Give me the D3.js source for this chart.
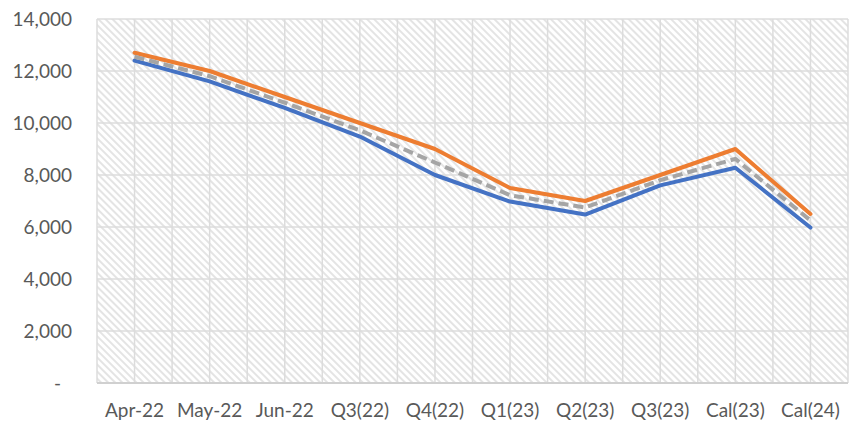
<!DOCTYPE html>
<html>
<head>
<meta charset="utf-8">
<script src="https://cdn.jsdelivr.net/npm/d3@7"></script>
<style>
  body { margin: 0; background: #fff; }
  text { font-family: Lato, "Open Sans", sans-serif; fill: #595959; }
</style>
</head>
<body>
<div id="chart"></div>
<script>
// chart data
const categories = ["Apr-22", "May-22", "Jun-22", "Q3(22)", "Q4(22)", "Q1(23)", "Q2(23)", "Q3(23)", "Cal(23)", "Cal(24)"];
const seriesHigh = [12700, 12000, 11000, 10000, 9000, 7500, 7000, 8000, 9000, 6500];
const seriesMid = [12550, 11800, 10780, 9720, 8480, 7220, 6750, 7800, 8620, 6250];
const seriesLow = [12400, 11600, 10580, 9480, 8000, 6980, 6480, 7600, 8280, 5980];
const yTicks = [0, 2000, 4000, 6000, 8000, 10000, 12000, 14000];

const width = 853, height = 426;
const margin = {top: 19, right: 5, bottom: 43, left: 97};

const svg = d3.select("#chart").append("svg")
    .attr("width", width)
    .attr("height", height);

const x = d3.scaleBand()
    .domain(categories)
    .range([margin.left, width - margin.right])
    .padding(0);

const y = d3.scaleLinear()
    .domain([0, 14000])
    .range([height - margin.bottom, margin.top]);

const cx = d => x(d) + x.bandwidth() / 2;

// hatched plot background
const defs = svg.append("defs");
const pat = defs.append("pattern")
    .attr("id", "hatch")
    .attr("patternUnits", "userSpaceOnUse")
    .attr("width", 5)
    .attr("height", 5)
    .attr("patternTransform", "rotate(-45)");
pat.append("rect").attr("width", 5).attr("height", 5).attr("fill", "#fff");
pat.append("rect").attr("width", 2).attr("height", 5).attr("fill", "#e4e4e4");

svg.append("rect")
    .attr("x", margin.left)
    .attr("y", margin.top)
    .attr("width", width - margin.right - margin.left)
    .attr("height", height - margin.bottom - margin.top)
    .attr("fill", "url(#hatch)");

// gridlines
const grid = svg.append("g").attr("stroke", "#dcdcdc").attr("stroke-width", 1.5);
grid.selectAll(".hg")
    .data(yTicks)
    .enter()
    .append("line")
    .attr("x1", margin.left)
    .attr("x2", width - margin.right)
    .attr("y1", d => y(d))
    .attr("y2", d => y(d));

const vPos = [];
categories.forEach(c => { vPos.push(x(c)); vPos.push(cx(c)); });
vPos.push(width - margin.right);
grid.selectAll(".vg")
    .data(vPos)
    .enter()
    .append("line")
    .attr("x1", d => d)
    .attr("x2", d => d)
    .attr("y1", margin.top)
    .attr("y2", height - margin.bottom);

// x axis line
svg.append("line")
    .attr("x1", margin.left)
    .attr("x2", width - margin.right)
    .attr("y1", y(0))
    .attr("y2", y(0))
    .attr("stroke", "#d0d0d0")
    .attr("stroke-width", 2);

// y labels
svg.selectAll(".ylab")
    .data(yTicks)
    .enter()
    .append("text")
    .attr("x", d => d === 0 ? 61 : 72)
    .attr("y", d => y(d))
    .attr("dy", "0.35em")
    .attr("text-anchor", "end")
    .style("font-size", "19px")
    .text(d => d === 0 ? "-" : d3.format(",")(d));

// x labels
svg.selectAll(".xlab")
    .data(categories)
    .enter()
    .append("text")
    .attr("x", d => cx(d))
    .attr("y", 417)
    .attr("text-anchor", "middle")
    .style("font-size", "19px")
    .text(d => d);

// lines
const line = d3.line()
    .x((d, i) => cx(categories[i]))
    .y(d => y(d));

svg.append("path")
    .datum(seriesHigh)
    .attr("d", line)
    .attr("fill", "none")
    .attr("stroke", "#ED7D31")
    .attr("stroke-width", 4)
    .attr("stroke-linejoin", "round")
    .attr("stroke-linecap", "round");

svg.append("path")
    .datum(seriesLow)
    .attr("d", line)
    .attr("fill", "none")
    .attr("stroke", "#4472C4")
    .attr("stroke-width", 4)
    .attr("stroke-linejoin", "round")
    .attr("stroke-linecap", "round");

svg.append("path")
    .datum(seriesMid)
    .attr("d", line)
    .attr("fill", "none")
    .attr("stroke", "#A5A5A5")
    .attr("stroke-width", 4)
    .attr("stroke-dasharray", "10,5")
    .attr("stroke-linejoin", "round");
</script>
</body>
</html>
